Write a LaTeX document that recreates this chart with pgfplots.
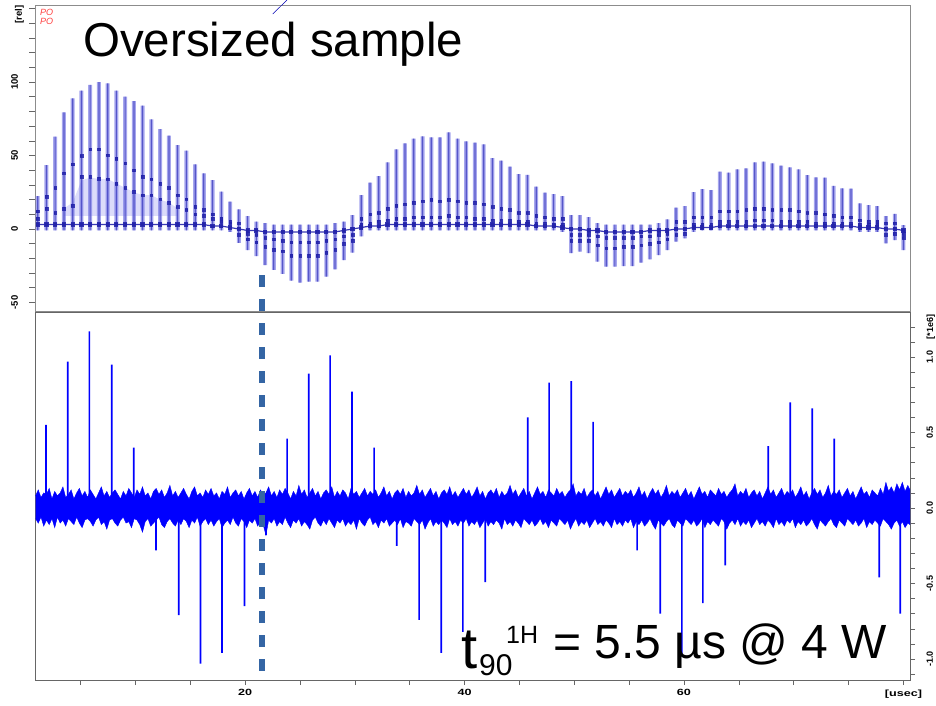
\documentclass[border=0pt]{standalone}
\usepackage{fontspec}
\setmainfont{Liberation Sans}
\usepackage{pgfplots}
\usepackage{pgfplotstable}
\pgfplotsset{compat=1.18}
\usepgfplotslibrary{fillbetween}
\definecolor{barlight}{RGB}{118,118,228}
\definecolor{barcore}{RGB}{60,60,190}
\definecolor{bardark}{RGB}{35,35,170}
\definecolor{lav}{RGB}{205,205,248}
\definecolor{dashblue}{RGB}{52,101,164}
\definecolor{spec}{RGB}{0,0,255}

\pgfplotstableread{
x A Z B C S
1.10 22.4 -1 12 7 3
1.90 43.5 -1 22 14 3
2.69 62.8 -1 28 11 3
3.49 79.4 -1 38 14 3
4.29 88.9 -1 44 16 3
5.09 94.1 -1 49.7 35.6 3
5.88 98 -1 54.2 35.6 3
6.68 100 -1 54.2 34.2 3
7.48 99.1 -1 50.3 34 3
8.27 94.1 -1 47.8 31 3
9.07 90 -1 44.7 28 3
9.87 87 -1 40 25.4 3
10.66 83.9 -1 35.6 23 3
11.46 74.6 -1 34 23 3
12.26 68 -1 31 20.4 3
13.06 63.5 -1 28 18 3
13.85 57.1 -1 23 15 3
14.65 53.3 -1 20.4 13 3
15.45 44 -1 15.2 10 3
16.24 37.9 -1 13 9 3
17.04 33.3 -1 10 7 2
17.84 25.4 -1 7 5 2
18.63 18.6 -2 5 4 1
19.43 13.4 -9.5 4 -4 0
20.23 8.8 -14.3 -7 -3 -1
21.03 5 -18.4 -9 -4 -1
21.82 4 -24.5 -12 -6 -2
22.62 3 -27.9 -14 -7 -2
23.42 3 -30.6 -15 -8 -2
24.21 3 -35.1 -18 -9 -2
25.01 3 -36.5 -18 -9 -2
25.81 3 -35.8 -18 -9 -2
26.60 3 -35.8 -18 -9 -2
27.40 3 -32.4 -16 -8 -2
28.20 4 -27.4 -14 -7 -2
29.00 5 -21.1 -10 -5 -1
29.79 9.5 -16.1 -8 -4 0
30.59 23.1 -5 7 3 1
31.39 31.5 -1 10 4 2
32.18 36 -1 11 5 2
32.98 45.4 -1 14 6 3
33.78 54.2 -1 16 7 3
34.57 58.3 -1 17 7 3
35.37 61.4 -1 18 8 3
36.17 63 -1 19 8 3
36.97 62.4 -1 20 8 3
37.76 62.4 -1 19 8 3
38.56 65.8 -1 20 9 3
39.36 61.4 -1 19 8 3
40.15 59.6 -1 18 8 3
40.95 58.7 -1 18 7 3
41.75 57.6 -1 17 7 3
42.54 48.3 -1 15 6 3
43.34 46.5 -1 14 6 3
44.14 42.4 -1 13 6 3
44.94 37.4 -1 11 5 3
45.73 36.9 -1 11 5 3
46.53 28.8 -1 9 4 2
47.33 24.7 -1 8 4 2
48.12 23.8 -1 7 3 2
48.92 22.4 -2 7 3 1
49.72 9.5 -16.5 -8 -4 0
50.51 9.5 -15.4 -8 -4 0
51.31 8 -16.5 -8 -4 -1
52.11 4 -22.2 -11 -5 -1
52.91 3 -25.6 -13 -6 -2
53.70 3 -25.6 -13 -6 -2
54.50 3 -25.2 -12 -6 -2
55.30 3 -25.2 -12 -6 -2
56.09 3 -22.9 -11 -5 -2
56.89 3 -20.6 -10 -5 -1
57.69 4 -17.7 -9 -4 -1
58.48 6.6 -14.3 -7 -3 -1
59.28 14.5 -8.6 5 -4 0
60.08 15.6 -6.3 5 -3 0
60.88 25 -2 8 3 1
61.67 27.2 -1 8 3 1
62.47 26.5 -1 8 3 1
63.27 39 -1 12 5 2
64.06 38.3 -1 12 5 2
64.86 40.6 -1 12 5 2
65.66 41.3 -1 13 5 2
66.45 45.4 -1 14 6 2
67.25 45.8 -1 14 6 2
68.05 44.7 -1 13 6 2
68.85 43.1 -1 13 5 2
69.64 42 -1 13 5 2
70.44 40.6 -1 12 5 2
71.24 36.7 -1 11 5 2
72.03 35.1 -1 11 4 2
72.83 34.9 -1 10 4 2
73.63 29.3 -1 9 4 2
74.42 27.7 -1 8 4 2
75.22 27.4 -1 8 4 2
76.02 17.5 -2 6 3 1
76.82 16.3 -2 5 3 1
77.61 15.6 -2 5 3 1
78.41 8.8 -9.8 4 -4 0
79.21 10.2 -7.6 4 -3 0
80.00 2.7 -14.3 -6 -3 -1
}\topdata

\pgfplotstableread{
x y
1.86 0.55
3.84 0.97
5.81 1.17
7.85 0.95
9.85 0.40
11.89 -0.28
13.96 -0.71
15.93 -1.03
17.90 -0.96
19.94 -0.65
21.91 -0.18
23.83 0.46
25.81 0.89
27.75 1.01
29.75 0.77
31.76 0.40
33.83 -0.25
35.86 -0.74
37.87 -0.96
39.85 -0.82
41.88 -0.49
45.77 0.60
47.71 0.83
49.72 0.84
51.72 0.57
55.73 -0.28
57.83 -0.70
59.81 -0.97
61.72 -0.63
63.76 -0.38
67.68 0.41
69.68 0.70
71.69 0.66
73.70 0.46
77.80 -0.46
79.71 -0.70
}\spikes

\pgfplotstableread{
x u l
0.90 0.08 -0.07
1.15 0.12 -0.10
1.40 0.07 -0.06
1.65 0.10 -0.12
1.90 0.09 -0.08
2.15 0.13 -0.11
2.40 0.06 -0.07
2.65 0.11 -0.13
2.90 0.08 -0.06
3.15 0.10 -0.10
3.40 0.14 -0.08
3.65 0.07 -0.12
3.90 0.09 -0.07
4.15 0.12 -0.09
4.40 0.06 -0.11
4.65 0.10 -0.06
4.90 0.13 -0.10
5.15 0.08 -0.13
5.40 0.11 -0.08
5.65 0.07 -0.07
5.90 0.12 -0.09
6.15 0.09 -0.12
6.40 0.06 -0.08
6.65 0.10 -0.06
6.90 0.14 -0.11
7.15 0.08 -0.09
7.40 0.11 -0.14
7.65 0.07 -0.08
7.90 0.10 -0.07
8.15 0.12 -0.10
8.40 0.09 -0.12
8.65 0.06 -0.08
8.90 0.11 -0.06
9.15 0.08 -0.10
9.40 0.13 -0.09
9.65 0.10 -0.13
9.90 0.07 -0.07
10.15 0.12 -0.08
10.40 0.09 -0.11
10.65 0.14 -0.16
10.90 0.08 -0.09
11.15 0.10 -0.07
11.40 0.06 -0.12
11.65 0.11 -0.10
11.90 0.13 -0.08
12.15 0.09 -0.06
12.40 0.12 -0.11
12.65 0.07 -0.13
12.90 0.10 -0.09
13.15 0.15 -0.07
13.40 0.08 -0.10
13.65 0.11 -0.12
13.90 0.07 -0.08
14.15 0.10 -0.11
14.40 0.13 -0.07
14.65 0.09 -0.09
14.90 0.06 -0.13
15.15 0.11 -0.08
15.40 0.14 -0.10
15.65 0.08 -0.06
15.90 0.10 -0.12
16.15 0.07 -0.09
16.40 0.12 -0.07
16.65 0.09 -0.11
16.90 0.13 -0.08
17.15 0.08 -0.12
17.40 0.10 -0.09
17.65 0.06 -0.07
17.90 0.11 -0.13
18.15 0.09 -0.10
18.40 0.14 -0.08
18.65 0.07 -0.11
18.90 0.10 -0.06
19.15 0.12 -0.10
19.40 0.08 -0.12
19.65 0.11 -0.07
19.90 0.06 -0.09
20.15 0.10 -0.13
20.40 0.13 -0.08
20.65 0.08 -0.10
20.90 0.11 -0.07
21.15 0.07 -0.12
21.40 0.12 -0.09
21.65 0.09 -0.11
21.90 0.10 -0.18
22.15 0.14 -0.08
22.40 0.08 -0.10
22.65 0.11 -0.07
22.90 0.07 -0.12
23.15 0.12 -0.09
23.40 0.09 -0.11
23.65 0.13 -0.06
23.90 0.10 -0.10
24.15 0.06 -0.13
24.40 0.11 -0.08
24.65 0.08 -0.10
24.90 0.15 -0.07
25.15 0.09 -0.12
25.40 0.12 -0.09
25.65 0.07 -0.11
25.90 0.10 -0.14
26.15 0.13 -0.08
26.40 0.08 -0.06
26.65 0.11 -0.10
26.90 0.06 -0.12
27.15 0.10 -0.08
27.40 0.12 -0.11
27.65 0.09 -0.07
27.90 0.14 -0.10
28.15 0.07 -0.13
28.40 0.11 -0.08
28.65 0.08 -0.10
28.90 0.12 -0.07
29.15 0.10 -0.12
29.40 0.06 -0.09
29.65 0.13 -0.11
29.90 0.09 -0.08
30.15 0.11 -0.14
30.40 0.07 -0.07
30.65 0.10 -0.10
30.90 0.13 -0.12
31.15 0.08 -0.08
31.40 0.11 -0.06
31.65 0.09 -0.11
31.90 0.12 -0.09
32.15 0.07 -0.13
32.40 0.10 -0.08
32.65 0.14 -0.10
32.90 0.08 -0.07
33.15 0.11 -0.12
33.40 0.06 -0.10
33.65 0.10 -0.08
33.90 0.12 -0.11
34.15 0.09 -0.07
34.40 0.13 -0.13
34.65 0.07 -0.09
34.90 0.11 -0.10
35.15 0.08 -0.12
35.40 0.10 -0.07
35.65 0.15 -0.09
35.90 0.09 -0.11
36.15 0.12 -0.08
36.40 0.07 -0.14
36.65 0.10 -0.10
36.90 0.13 -0.07
37.15 0.08 -0.12
37.40 0.11 -0.09
37.65 0.06 -0.11
37.90 0.10 -0.08
38.15 0.12 -0.10
38.40 0.09 -0.13
38.65 0.14 -0.07
38.90 0.08 -0.11
39.15 0.11 -0.09
39.40 0.07 -0.12
39.65 0.10 -0.08
39.90 0.13 -0.10
40.15 0.09 -0.07
40.40 0.12 -0.12
40.65 0.07 -0.09
40.90 0.10 -0.11
41.15 0.14 -0.08
41.40 0.08 -0.13
41.65 0.11 -0.10
41.90 0.06 -0.07
42.15 0.10 -0.12
42.40 0.12 -0.09
42.65 0.09 -0.11
42.90 0.13 -0.08
43.15 0.07 -0.10
43.40 0.11 -0.14
43.65 0.08 -0.07
43.90 0.10 -0.11
44.15 0.15 -0.09
44.40 0.09 -0.12
44.65 0.12 -0.08
44.90 0.07 -0.10
45.15 0.10 -0.13
45.40 0.13 -0.07
45.65 0.08 -0.09
45.90 0.11 -0.11
46.15 0.06 -0.08
46.40 0.10 -0.12
46.65 0.14 -0.10
46.90 0.09 -0.07
47.15 0.11 -0.11
47.40 0.07 -0.09
47.65 0.12 -0.13
47.90 0.10 -0.08
48.15 0.08 -0.10
48.40 0.13 -0.12
48.65 0.09 -0.07
48.90 0.11 -0.09
49.15 0.07 -0.11
49.40 0.10 -0.08
49.65 0.12 -0.14
49.90 0.16 -0.10
50.15 0.08 -0.07
50.40 0.11 -0.12
50.65 0.09 -0.09
50.90 0.13 -0.11
51.15 0.07 -0.08
51.40 0.10 -0.13
51.65 0.12 -0.10
51.90 0.08 -0.07
52.15 0.11 -0.11
52.40 0.06 -0.09
52.65 0.10 -0.12
52.90 0.14 -0.08
53.15 0.09 -0.10
53.40 0.12 -0.13
53.65 0.07 -0.07
53.90 0.10 -0.11
54.15 0.13 -0.09
54.40 0.08 -0.12
54.65 0.11 -0.08
54.90 0.09 -0.10
55.15 0.12 -0.07
55.40 0.07 -0.13
55.65 0.10 -0.09
55.90 0.14 -0.11
56.15 0.08 -0.08
56.40 0.11 -0.12
56.65 0.06 -0.10
56.90 0.10 -0.07
57.15 0.13 -0.11
57.40 0.09 -0.14
57.65 0.12 -0.08
57.90 0.07 -0.10
58.15 0.10 -0.12
58.40 0.15 -0.09
58.65 0.08 -0.07
58.90 0.11 -0.11
59.15 0.09 -0.13
59.40 0.12 -0.08
59.65 0.07 -0.10
59.90 0.10 -0.12
60.15 0.13 -0.07
60.40 0.08 -0.09
60.65 0.11 -0.11
60.90 0.06 -0.08
61.15 0.10 -0.12
61.40 0.14 -0.10
61.65 0.09 -0.07
61.90 0.11 -0.13
62.15 0.07 -0.09
62.40 0.12 -0.11
62.65 0.10 -0.08
62.90 0.08 -0.10
63.15 0.13 -0.12
63.40 0.09 -0.07
63.65 0.11 -0.09
63.90 0.07 -0.14
64.15 0.10 -0.10
64.40 0.12 -0.08
64.65 0.16 -0.11
64.90 0.08 -0.07
65.15 0.11 -0.12
65.40 0.09 -0.09
65.65 0.13 -0.11
65.90 0.07 -0.08
66.15 0.10 -0.13
66.40 0.12 -0.10
66.65 0.08 -0.07
66.90 0.11 -0.11
67.15 0.06 -0.09
67.40 0.10 -0.12
67.65 0.14 -0.08
67.90 0.09 -0.10
68.15 0.12 -0.13
68.40 0.07 -0.07
68.65 0.10 -0.11
68.90 0.13 -0.09
69.15 0.08 -0.12
69.40 0.11 -0.08
69.65 0.09 -0.10
69.90 0.12 -0.07
70.15 0.07 -0.13
70.40 0.10 -0.09
70.65 0.14 -0.11
70.90 0.08 -0.08
71.15 0.11 -0.12
71.40 0.06 -0.10
71.65 0.10 -0.07
71.90 0.13 -0.11
72.15 0.09 -0.14
72.40 0.12 -0.08
72.65 0.07 -0.10
72.90 0.10 -0.12
73.15 0.15 -0.09
73.40 0.08 -0.07
73.65 0.11 -0.11
73.90 0.09 -0.13
74.15 0.12 -0.08
74.40 0.07 -0.10
74.65 0.10 -0.12
74.90 0.13 -0.07
75.15 0.08 -0.09
75.40 0.11 -0.11
75.65 0.06 -0.08
75.90 0.10 -0.12
76.15 0.14 -0.10
76.40 0.09 -0.07
76.65 0.11 -0.13
76.90 0.07 -0.09
77.15 0.12 -0.11
77.40 0.10 -0.08
77.65 0.08 -0.10
77.90 0.13 -0.12
78.15 0.09 -0.07
78.40 0.17 -0.09
78.65 0.11 -0.11
78.90 0.14 -0.14
79.15 0.10 -0.10
79.40 0.16 -0.08
79.65 0.12 -0.12
79.90 0.17 -0.09
80.15 0.11 -0.13
80.40 0.15 -0.10
80.60 0.12 -0.11
}\noise

\begin{document}
\begin{tikzpicture}
% ---------------- bottom panel ----------------
\begin{axis}[
  at={(35.5pt,-680pt)}, anchor=south west,
  scale only axis, width=874.5pt, height=368pt,
  xmin=0.9, xmax=80.6, ymin=-1.139, ymax=1.298,
  clip=false,
  axis line style={draw=black!60, line width=0.8pt},
  tick align=outside, major tick length=5pt, minor tick length=5pt,
  tick style={black!60, line width=0.6pt},
  xtick pos=bottom, ytick pos=right, yticklabel pos=right,
  xtick={5,10,...,80},
  xticklabels={,,,20,,,,40,,,,60,,,,{[usec]}},
  ytick={-1,-0.5,0,0.5,1},
  yticklabels={-1.0,-0.5,0.0,0.5,1.0},
  minor ytick={-1.1,-0.9,-0.8,-0.7,-0.6,-0.4,-0.3,-0.2,-0.1,0.1,0.2,0.3,0.4,0.6,0.7,0.8,0.9,1.1},
  extra y ticks={1.2}, extra y tick labels={{[*1e6]}},
  xticklabel style={font=\fontsize{9}{9}\selectfont\bfseries, xscale=1.4, yshift=-1pt},
  yticklabel style={font=\fontsize{9}{9}\selectfont\bfseries, rotate=90, anchor=north, yshift=-8pt},
]
\addplot[name path=U, draw=spec, line width=0.4pt] table[x=x,y=u]{\noise};
\addplot[name path=L, draw=spec, line width=0.4pt] table[x=x,y=l]{\noise};
\addplot[fill=spec, draw=none] fill between[of=U and L];
\addplot[ybar, bar width=1.7pt, bar shift=0pt, fill=spec, draw=none] table[x=x,y=y]{\spikes};
\addplot[draw=dashblue, line width=5.7pt, dash pattern=on 12pt off 12pt] coordinates {(21.53,1.543) (21.53,-1.093)};
\end{axis}
% ---------------- top panel ----------------
\begin{axis}[
  at={(35.5pt,-311pt)}, anchor=south west,
  scale only axis, width=874.5pt, height=306pt,
  xmin=0.9, xmax=80.6, ymin=-55.8, ymax=152.4,
  axis line style={draw=black!45, line width=0.8pt},
  tick align=outside, major tick length=6pt, minor tick length=6pt,
  tick style={black!60, line width=0.6pt},
  xtick=\empty, ytick pos=left,
  ytick={-50,0,50,100}, yticklabels={-50,0,50,100},
  minor ytick={-40,-30,-20,-10,10,20,30,40,60,70,80,90,110,120,130,140,150},
  extra y ticks={146}, extra y tick labels={{[rel]}}, extra y tick style={major tick length=0pt},
  yticklabel style={font=\fontsize{9.5}{9.5}\selectfont\bfseries, rotate=90, anchor=south, yshift=8pt},
]
\addplot[fill=lav, draw=none, fill opacity=0.7] coordinates {(3.49,14) (4.29,18) (5.09,33) (5.88,35) (6.68,34) (7.48,34) (8.27,31) (9.07,28) (9.87,25) (10.66,23) (11.46,23) (12.26,20) (13.06,18) (13.85,14) (13.85,9) (3.49,9)};
\addplot[ybar, bar width=4pt, bar shift=0pt, fill=barlight, fill opacity=0.65, draw=none] table[x=x,y=A]{\topdata};
\addplot[ybar, bar width=4pt, bar shift=0pt, fill=barlight, fill opacity=0.65, draw=none] table[x=x,y=Z]{\topdata};
\addplot[ybar, bar width=1.2pt, bar shift=0pt, fill=barcore, fill opacity=0.75, draw=none] table[x=x,y=A]{\topdata};
\addplot[ybar, bar width=1.2pt, bar shift=0pt, fill=barcore, fill opacity=0.75, draw=none] table[x=x,y=Z]{\topdata};
\addplot[only marks, mark=square*, mark size=1.3pt, color=bardark, opacity=0.85] table[x=x,y=B]{\topdata};
\addplot[only marks, mark=square*, mark size=1.3pt, color=bardark, opacity=0.85] table[x=x,y=C]{\topdata};
\addplot[bardark, line width=1.2pt, mark=square*, mark size=1.5pt, opacity=0.9] table[x=x,y=S]{\topdata};
\end{axis}
% ---------------- texts ----------------
\node[anchor=base west, inner sep=0pt, font=\fontsize{47.5}{47.5}\selectfont] at (83pt,-57pt) {Oversized sample};
\node[anchor=base west, inner sep=0pt, font=\fontsize{58}{58}\selectfont] at (461pt,-668pt) {t};
\node[anchor=base west, inner sep=0pt, font=\fontsize{30}{30}\selectfont] at (479pt,-675pt) {90};
\node[anchor=base west, inner sep=0pt, font=\fontsize{25}{25}\selectfont] at (506pt,-643pt) {1H};
\node[anchor=base west, inner sep=0pt, font=\fontsize{48}{48}\selectfont] at (553pt,-658pt) {= 5.5 µs @ 4 W};
\node[anchor=base west, inner sep=0pt, text=red!75, font=\fontsize{9}{9}\selectfont\itshape] at (40pt,-16pt) {PO};
\node[anchor=base west, inner sep=0pt, text=red!75, font=\fontsize{9}{9}\selectfont\itshape] at (40pt,-25pt) {PO};
\draw[blue!70!black, line width=0.5pt] (272.7pt,-14pt) -- (287pt,0pt);
\pgfresetboundingbox
\path[use as bounding box] (0pt,0pt) rectangle (936pt,-706pt);
\end{tikzpicture}
\end{document}
